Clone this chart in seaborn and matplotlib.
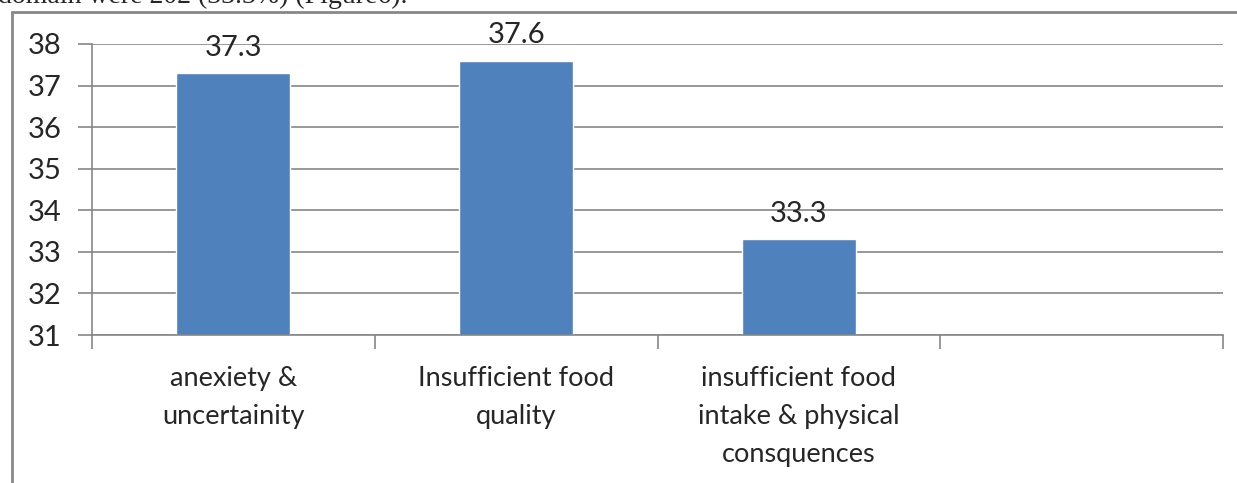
import numpy as np
import pandas as pd
import matplotlib
matplotlib.use("Agg")
import matplotlib.pyplot as plt
import seaborn as sns
from matplotlib.lines import Line2D

# data
categories = ["anexiety &\nuncertainity", "Insufficient food\nquality",
              "insufficient food\nintake & physical\nconsquences"]
values = [37.3, 37.6, 33.3]
slots = categories + [" "]  # empty fourth slot on the axis
y_ticks = [31, 32, 33, 34, 35, 36, 37, 38]
caption = "domain were 202 (33.3%) (Figure6)."

bar_col = "#4F81BD"
grid_col = "#868686"

sns.set_theme(style="white")
plt.rcParams['font.family'] = ['Lato', 'DejaVu Sans']

df = pd.DataFrame({"cat": categories, "val": values})

fig = plt.figure(figsize=(12.37, 4.83), dpi=100)
ax = fig.add_axes([92/1237, 1-335/483, (1223-92)/1237, (335-44)/483])

sns.barplot(data=df, x="cat", y="val", order=slots, color=bar_col,
            saturation=1, width=0.403, ax=ax)

ax.set_ylim(y_ticks[0], y_ticks[-1])
ax.set_xlim(-0.5, len(slots)-0.5)
ax.set_yticks(y_ticks)
ax.yaxis.grid(True, color=grid_col, lw=1.2)
ax.set_axisbelow(True)
ax.set_xlabel("")
ax.set_ylabel("")

for s in ["top", "right"]:
    ax.spines[s].set_visible(False)
for s in ["left", "bottom"]:
    ax.spines[s].set_color(grid_col)
    ax.spines[s].set_linewidth(1.2)

ax.set_xticks(range(len(slots)))
ax.set_xticklabels(slots, fontsize=19.5, linespacing=1.65)
ax.set_xticks(np.arange(-0.5, len(slots), 1), minor=True)
ax.tick_params(axis="x", which="major", length=0, pad=22)
ax.tick_params(axis="x", which="minor", length=10, width=1.2, color=grid_col,
               direction="out", bottom=True)
ax.tick_params(axis="y", length=10, width=1.2, color=grid_col, direction="out",
               left=True, labelsize=21, pad=12)
for lbl in ax.get_xticklabels():
    lbl.set_verticalalignment("top")

ax.bar_label(ax.containers[0], fmt="%.1f", padding=9, fontsize=21)

# outer chart frame (partly outside the picture)
fig.add_artist(Line2D([12/1237, 12/1237], [0, 1-12/483], transform=fig.transFigure,
                      color="#888888", lw=2))
fig.add_artist(Line2D([12/1237, 1], [1-12/483, 1-12/483], transform=fig.transFigure,
                      color="#888888", lw=2))

# caption text cut off at the top
fig.text(-2/1237, 1-3/483, caption, family="Liberation Serif", fontsize=20,
         va="baseline", ha="left")

fig.savefig("out.png", dpi=100)
